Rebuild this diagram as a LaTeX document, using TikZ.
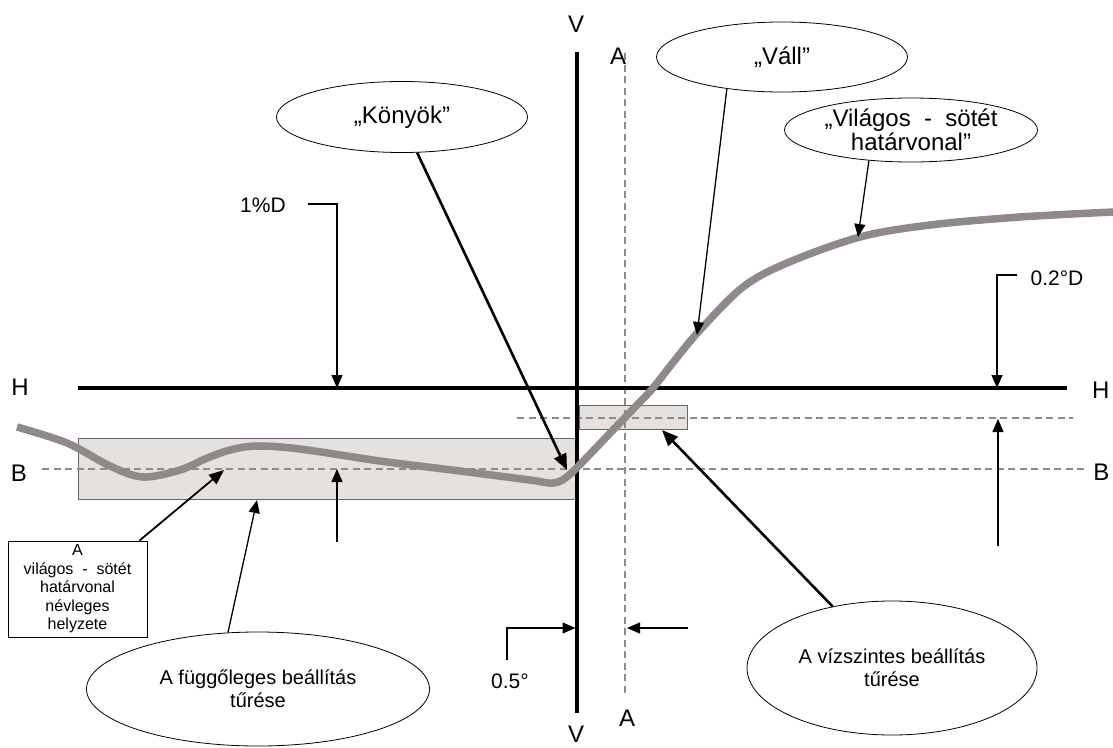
\documentclass[tikz,border=0pt]{standalone}
\usepackage{fontspec}
\setmainfont{Liberation Sans}
\usetikzlibrary{arrows.meta,shapes.geometric}

\definecolor{edgegray}{RGB}{143,137,135}
\definecolor{tolfill}{RGB}{229,225,223}

\newcommand\letterfont{\fontsize{24}{24}\selectfont}
\newcommand\dimfont{\fontsize{21}{21}\selectfont}
\newcommand\calloutfont{\fontsize{24}{23.5}\selectfont}
\newcommand\tolfont{\fontsize{20}{23}\selectfont}
\newcommand\boxfont{\fontsize{16}{18.5}\selectfont}

\begin{document}
\begin{tikzpicture}[x=1pt,y=-1pt,
    axis/.style={line width=3.2pt},
    refline/.style={edgegray,line width=2pt,dash pattern=on 7pt off 4.5pt},
    tolbox/.style={fill=tolfill,draw=black!60,line width=0.8pt},
    cutoff/.style={edgegray,line width=7.5pt},
    dimarrow/.style={line width=1.3pt,-{Triangle[length=13pt,width=11pt]}},
    midarrow/.style={line width=1.8pt,-{Triangle[length=15pt,width=12pt]}},
    bigarrow/.style={line width=2.6pt,-{Triangle[length=16pt,width=13pt]}},
    callout/.style={draw,ellipse,line width=0.8pt,inner sep=0pt,align=center}]
\useasboundingbox (0,0) rectangle (1113,747);

% tolerance bands
\draw[tolbox] (78,438) rectangle (577,499);
\draw[tolbox] (579,405) rectangle (687,429);

% reference lines
\draw[refline] (42,469) -- (1087,469);
\draw[refline] (517,418) -- (1073,418);
\draw[refline,line width=1.5pt] (625,53) -- (625,693);
\draw[axis] (78,388) -- (1067,388);
\draw[axis] (577,52) -- (577,713);

% cut-off line
\draw[cutoff] plot[smooth,tension=0.55] coordinates {
    (17,427) (67,443) (110,466) (143,477) (180,470) (205,459) (230,450)
    (257,446) (300,449) (380,461) (460,471) (530,480) (553,483) (568,476)
    (592,452) (613,430) (637,405) (653,388) (675,360) (700,330) (743,287)
    (787,263) (860,237) (930,225) (1020,217) (1113,212)};

% axis letters
\node[font=\letterfont] (Vtop) at (576,24) {V};
\node[font=\letterfont,anchor=south] (Vbot) at (576,746) {V};
\node[font=\letterfont] (Atop) at (618,56) {A};
\node[font=\letterfont] (Abot) at (627,718) {A};
\node[font=\letterfont] (Hleft) at (20,387) {H};
\node[font=\letterfont,anchor=east] (Hright) at (1113,390) {H};
\node[font=\letterfont] (Bleft) at (19,473) {B};
\node[font=\letterfont,anchor=east] (Bright) at (1113,472) {B};

% dimensions
\node[font=\dimfont] (pct) at (263,205) {1\%D};
\coordinate (pctstart) at (308,204);
\coordinate (pcttip) at (337,388);
\draw[dimarrow] (pctstart) -| (pcttip);
\coordinate (bandlow) at (337,542);
\coordinate (bandtip) at (337,469);
\draw[dimarrow] (bandlow) -- (bandtip);

\node[font=\dimfont] (degD) at (1057,278) {0.2°D};
\coordinate (degstart) at (1017,275);
\coordinate (degtip) at (997,388);
\draw[dimarrow] (degstart) -| (degtip);
\coordinate (upperlow) at (998,546);
\coordinate (uppertip) at (998,419);
\draw[dimarrow] (upperlow) -- (uppertip);

\node[font=\dimfont] (halfdeg) at (510,681) {0.5°};
\coordinate (halfstart) at (507,660);
\coordinate (halftip) at (575.5,628);
\draw[dimarrow] (halfstart) |- (halftip);
\coordinate (shiftstart) at (688,628);
\coordinate (shifttip) at (627,628);
\draw[dimarrow] (shiftstart) -- (shifttip);

% callouts
\node[callout,minimum width=251pt,minimum height=71pt,font=\calloutfont] (konyok) at (402,117) {„Könyök”};
\node[callout,minimum width=251pt,minimum height=70pt,font=\calloutfont] (vall) at (782,57) {„Váll”};
\node[callout,minimum width=253pt,minimum height=64pt,font=\calloutfont] (vilagos) at (911,130) {„Világos\ \ -\ \ sötét\\határvonal”};
\node[callout,minimum width=343pt,minimum height=114pt,font=\tolfont] (fugg) at (258,689) {A függőleges beállítás\\tűrése};
\node[callout,minimum width=290pt,minimum height=134pt,font=\tolfont] (vizsz) at (892,668) {A vízszintes beállítás\\tűrése};
\node[draw,line width=0.8pt,minimum width=139pt,minimum height=96pt,inner sep=1pt,align=center,font=\boxfont] (nominal) at (77.5,589) {A\\világos\ \ -\ \ sötét\\határvonal\\névleges\\helyzete};

\coordinate (konyoktip) at (567,470);
\coordinate (valltip) at (697,335);
\coordinate (vilagostip) at (858,237);
\coordinate (fuggtip) at (257,500);
\coordinate (vizsztip) at (662,430);
\coordinate (nominaltip) at (224,470);

\draw[bigarrow] (konyok.293) -- (konyoktip);
\draw[dimarrow] (vall.210) -- (valltip);
\draw[dimarrow] (vilagos.216) -- (vilagostip);
\draw[dimarrow] (fugg.118) -- (fuggtip);
\draw[bigarrow] (vizsz.134) -- (vizsztip);
\draw[midarrow] (nominal.38) -- (nominaltip);
\end{tikzpicture}
\end{document}
